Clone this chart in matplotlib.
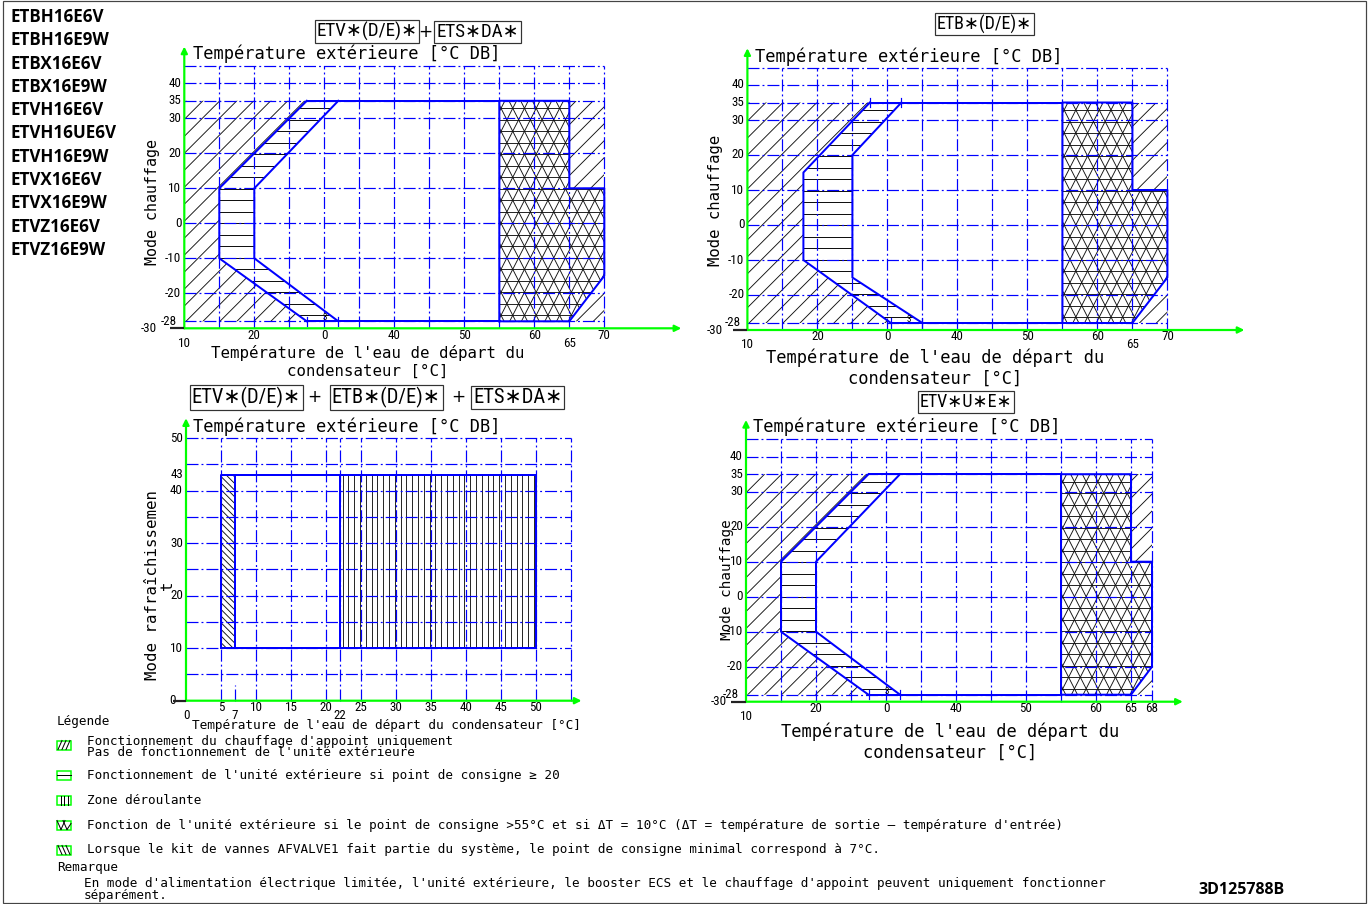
import matplotlib
matplotlib.use('Agg')
import numpy as np
import matplotlib.pyplot as plt
from matplotlib.patches import Polygon, Rectangle
from matplotlib.lines import Line2D
from matplotlib.collections import LineCollection
import matplotlib.font_manager as fm

# ---------------------------------------------------------------- data
model_names = ["ETBH16E6V", "ETBH16E9W", "ETBX16E6V", "ETBX16E9W", "ETVH16E6V",
               "ETVH16UE6V", "ETVH16E9W", "ETVX16E6V", "ETVX16E9W", "ETVZ16E6V",
               "ETVZ16E9W"]

heat_y_ticks = [40, 35, 30, 20, 10, 0, -10, -20, -28]
heat_y_grid = [45, 40, 35, 30, 20, 10, 0, -10, -20, -28]
heat_y_axis = -30

# panel 1 : ETV*(D/E)* + ETS*DA*
p1_titles = ["ETV∗(D/E)∗", "ETS∗DA∗"]
p1_x_ticks = [10, 20, 30, 40, 50, 60, 65, 70]
p1_x_labels = ["10", "20", "0", "40", "50", "60", "65", "70"]
p1_x_low = [True, False, False, False, False, False, True, False]
p1_x_grid = [15, 20, 25, 30, 35, 40, 45, 50, 55, 60, 65, 70]
p1_outer_x = [27.5, 15, 15, 27.5]
p1_outer_y = [-28, -10, 10, 35]
p1_inner_x = [32, 20, 20, 32]
p1_inner_y = [-28, -10, 10, 35]
p1_hp_x = [55, 55, 65, 65, 70, 70, 65]
p1_hp_y = [-28, 35, 35, 10, 10, -15, -28]

# panel 2 : ETB*(D/E)*
p2_titles = ["ETB∗(D/E)∗"]
p2_x_ticks = [10, 20, 30, 40, 50, 60, 65, 70]
p2_x_labels = ["10", "20", "0", "40", "50", "60", "65", "70"]
p2_x_low = [True, False, False, False, False, False, True, False]
p2_x_grid = [15, 20, 25, 30, 35, 40, 45, 50, 55, 60, 65, 70]
p2_outer_x = [30.5, 18, 18, 27.5]
p2_outer_y = [-28, -10, 15, 35]
p2_inner_x = [35, 25, 25, 32]
p2_inner_y = [-28, -15, 20, 35]
p2_hp_x = [55, 55, 65, 65, 70, 70, 65]
p2_hp_y = [-28, 35, 35, 10, 10, -15, -28]

# panel 4 : ETV*U*E*
p4_titles = ["ETV∗U∗E∗"]
p4_x_ticks = [10, 20, 30, 40, 50, 60, 65, 68]
p4_x_labels = ["10", "20", "0", "40", "50", "60", "65", "68"]
p4_x_low = [True, False, False, False, False, False, False, False]
p4_x_grid = [15, 20, 25, 30, 35, 40, 45, 50, 55, 60, 65, 68]
p4_outer_x = [27.5, 15, 15, 27.5]
p4_outer_y = [-28, -10, 10, 35]
p4_inner_x = [32, 20, 20, 32]
p4_inner_y = [-28, -10, 10, 35]
p4_hp_x = [55, 55, 65, 65, 68, 68, 65]
p4_hp_y = [-28, 35, 35, 10, 10, -20, -28]

# panel 3 : cooling
p3_titles = ["ETV∗(D/E)∗", "ETB∗(D/E)∗", "ETS∗DA∗"]
p3_x_ticks = [0, 5, 7, 10, 15, 20, 22, 25, 30, 35, 40, 45, 50]
p3_x_low = [True, False, True, False, False, False, True, False, False, False, False, False, False]
p3_y_ticks = [0, 10, 20, 30, 40, 43, 50]
p3_x_grid = [5, 10, 15, 20, 22, 25, 30, 35, 40, 45, 50, 55]
p3_y_grid = [5, 10, 15, 20, 25, 30, 35, 40, 45, 50]
p3_env_x = [5, 50]
p3_env_y = [10, 43]
p3_valve_x = [5, 7]
p3_roll_x = [22, 50]

legend_texts = [
    ["Fonctionnement du chauffage d'appoint uniquement",
     "Pas de fonctionnement de l'unité extérieure"],
    ["Fonctionnement de l'unité extérieure si point de consigne ≥ 20"],
    ["Zone déroulante"],
    ["Fonction de l'unité extérieure si le point de consigne >55°C et si ΔT = 10°C "
     "(ΔT = température de sortie – température d'entrée)"],
    ["Lorsque le kit de vannes AFVALVE1 fait partie du système, le point de consigne "
     "minimal correspond à 7°C."],
]
remark_lines = ["En mode d'alimentation électrique limitée, l'unité extérieure, le booster ECS "
                "et le chauffage d'appoint peuvent uniquement fonctionner",
                "séparément."]
doc_code = "3D125788B"

# ---------------------------------------------------------------- style
DPI = 72
W, H = 1370, 904
BLUE = '#0000ff'
GREEN = '#00ff00'
MONO = 'DejaVu Sans Mono'
DASHDOT = (0, (10.0, 2.5, 1.6, 2.5))


def has_font(name):
    try:
        fm.findfont(fm.FontProperties(family=name), fallback_to_default=False)
        return True
    except Exception:
        return False


NARROW = None
NARROW_STRETCH = 'normal'
for cand in ['Liberation Sans Narrow', 'Roboto Condensed', 'Open Sans Condensed']:
    if has_font(cand):
        NARROW = cand
        break
if NARROW is None:
    try:
        path = fm.findfont(fm.FontProperties(family='DejaVu Sans', stretch='condensed'))
        if 'ondensed' in path:
            NARROW, NARROW_STRETCH = 'DejaVu Sans', 'condensed'
    except Exception:
        pass
if NARROW is None:
    NARROW = 'Roboto' if has_font('Roboto') else 'DejaVu Sans'
BOLD = 'Open Sans' if has_font('Open Sans') else 'DejaVu Sans'

fig = plt.figure(figsize=(W / DPI, H / DPI), dpi=DPI)


def fx(x):
    return x / W


def fy(y):
    return 1 - y / H


def make_ax(ox, oy, x0, y0, sx, sy, xlim, ylim):
    left = ox + (xlim[0] - x0) * sx
    right = ox + (xlim[1] - x0) * sx
    top = oy - (ylim[1] - y0) * sy
    bottom = oy - (ylim[0] - y0) * sy
    ax = fig.add_axes([left / W, 1 - bottom / H, (right - left) / W, (bottom - top) / H])
    ax.set_xlim(*xlim)
    ax.set_ylim(*ylim)
    ax.axis('off')
    ax.patch.set_alpha(0)
    ax._sx, ax._sy = sx, sy
    return ax


def hatch_lines(ax, pts, angles, spacings, lw=0.9, color='#111111'):
    """Fill a polygon with straight hatch lines (angles/spacings in screen pixels)."""
    sx, sy = ax._sx, ax._sy
    poly = Polygon(pts, closed=True, fill=False, lw=0, edgecolor='none', zorder=1)
    ax.add_patch(poly)
    P = np.array([[p[0] * sx, p[1] * sy] for p in pts])
    c = P.mean(axis=0)
    R = np.max(np.hypot(P[:, 0] - c[0], P[:, 1] - c[1])) + 5
    segs = []
    for ang, sp in zip(angles, spacings):
        a = np.deg2rad(ang)
        d = np.array([np.cos(a), np.sin(a)])
        n = np.array([-np.sin(a), np.cos(a)])
        cn, cd = c @ n, c @ d
        k0 = int(np.floor((cn - R) / sp))
        k1 = int(np.ceil((cn + R) / sp))
        for k in range(k0, k1 + 1):
            t = k * sp
            p0 = n * t + d * (cd - R)
            p1 = n * t + d * (cd + R)
            segs.append([(p0[0] / sx, p0[1] / sy), (p1[0] / sx, p1[1] / sy)])
    lc = LineCollection(segs, colors=color, linewidths=lw, zorder=1)
    ax.add_collection(lc)
    lc.set_clip_path(poly)


DIAG = ([45], [12.0])
HORIZ = ([0], [11.5])
TRI_H = 11.5
TRI_ANG = 63.0
TRI_B = 2 * TRI_H / np.tan(np.deg2rad(TRI_ANG))
TRI = ([0, TRI_ANG, 180 - TRI_ANG],
       [TRI_H, TRI_B * np.sin(np.deg2rad(TRI_ANG)), TRI_B * np.sin(np.deg2rad(TRI_ANG))])


def title_boxes(ax, items, y, fs):
    for x, t, boxed in items:
        if boxed:
            ax.text(x, y, t, ha='center', va='center', fontsize=fs,
                    family=[NARROW, 'DejaVu Sans'], fontstretch=NARROW_STRETCH, clip_on=False,
                    bbox=dict(boxstyle='square,pad=0.1', fc='white', ec='#333333', lw=1.2))
        else:
            ax.text(x, y, t, ha='center', va='center', fontsize=17, family='DejaVu Sans',
                    clip_on=False)


def tick_text(ax, s, xy, off, ha):
    ax.annotate(s, xy=xy, xytext=off, textcoords='offset pixels', ha=ha, va='center',
                fontsize=13, family=NARROW, fontstretch=NARROW_STRETCH)


def green_axes(ax, x0, y0, xend, yend, tick_len):
    ap = dict(arrowstyle='-|>', color=GREEN, lw=2.2, mutation_scale=13, shrinkA=0, shrinkB=0)
    ax.annotate('', xy=(xend, y0), xytext=(x0, y0), arrowprops=ap, zorder=5)
    ax.annotate('', xy=(x0, yend), xytext=(x0, y0), arrowprops=ap, zorder=5)
    ax.plot([x0 - tick_len, x0], [y0, y0], color='#222222', lw=2.2, zorder=5,
            solid_capstyle='butt')


def heat_panel(ax, outer_x, outer_y, inner_x, inner_y, hp_x, hp_y,
               x_ticks, x_labels, x_low, x_grid, x_end, m30_off, top_ticks=False):
    x0 = 10
    xmax = hp_x[4]
    top, bot = hp_y[1], hp_y[0]
    # backup heater only (left + right)
    hatch_lines(ax, [(x0, bot)] + list(zip(outer_x, outer_y)) + [(x0, top)], *DIAG)
    hatch_lines(ax, [(hp_x[3], hp_y[3]), (hp_x[2], top), (xmax, top), (xmax, hp_y[3])], *DIAG)
    hatch_lines(ax, [(hp_x[6], bot), (xmax, hp_y[5]), (xmax, bot)], *DIAG)
    # outdoor unit if setpoint >= 20
    band = list(zip(outer_x, outer_y)) + list(zip(inner_x, inner_y))[::-1]
    hatch_lines(ax, band, *HORIZ, lw=1.0)
    # outdoor unit > 55 °C
    hatch_lines(ax, list(zip(hp_x, hp_y)), *TRI)
    # grid
    for gy in heat_y_grid:
        ax.plot([x0, xmax], [gy, gy], color=BLUE, lw=1.2, ls=DASHDOT, zorder=2)
    for gx in x_grid:
        ax.plot([gx, gx], [heat_y_axis, heat_y_grid[0]], color=BLUE, lw=1.2, ls=DASHDOT, zorder=2)
    # envelope outlines
    kw = dict(color=BLUE, lw=2, zorder=3)
    ax.plot(outer_x, outer_y, **kw)
    ax.plot(inner_x, inner_y, **kw)
    ax.plot([outer_x[-1], hp_x[1]], [top, top], **kw)
    ax.plot([outer_x[0], hp_x[0]], [bot, bot], **kw)
    ax.plot(hp_x + [hp_x[0]], hp_y + [hp_y[0]], **kw)
    # small dimension marks
    for xm in (outer_x[0], inner_x[0]):
        ax.plot([xm, xm], [bot - 1.3, bot + 1.3], color=BLUE, lw=1.2, zorder=3)
    ax.text((outer_x[0] + inner_x[0]) / 2 + 0.3, bot + 1.0, '3', fontsize=9, family=NARROW,
            ha='center', va='center', zorder=4)
    if top_ticks:
        for xm in (outer_x[-1], inner_x[-1]):
            ax.plot([xm, xm], [top - 1.3, top + 1.3], color=BLUE, lw=1.2, zorder=3)
    # axes
    green_axes(ax, x0, heat_y_axis, x_end, 50.5, 2.1)
    for xv, lab, low in zip(x_ticks, x_labels, x_low):
        tick_text(ax, lab, (xv, heat_y_axis), (0, -15 if low else -7), 'center')
    for yv in heat_y_ticks:
        tick_text(ax, str(yv), (x0, yv), (-7 if yv == -28 else -3, 0), 'right')
    tick_text(ax, str(heat_y_axis), (x0, heat_y_axis), (-m30_off, 0), 'right')


# ---------------------------------------------------------------- panel 1
ax1 = make_ax(184.3, 223.3, 10, 0, 7, 3.5, (0, 85), (-45, 60))
heat_panel(ax1, p1_outer_x, p1_outer_y, p1_inner_x, p1_inner_y, p1_hp_x, p1_hp_y,
           p1_x_ticks, p1_x_labels, p1_x_low, p1_x_grid, 81, 27)
title_boxes(ax1, [(36.1, p1_titles[0], True), (44.4, '+', False), (51.9, p1_titles[1], True)],
            54.7, 19)
ax1.text(11.2, 48.4, "Température extérieure [°C DB]", family=MONO, fontsize=17,
         ha='left', va='center')
ax1.text(5.4, 6.0, "Mode chauffage", family=MONO, fontsize=15, rotation=90,
         ha='center', va='center')
ax1.text(36.2, -39.6, "Température de l'eau de départ du\ncondensateur [°C]", family=MONO,
         fontsize=15.7, ha='center', va='center', linespacing=1.2, clip_on=False)

# ---------------------------------------------------------------- panel 2
ax2 = make_ax(747.4, 225, 10, 0, 7, 3.5, (0, 85), (-45, 65))
heat_panel(ax2, p2_outer_x, p2_outer_y, p2_inner_x, p2_inner_y, p2_hp_x, p2_hp_y,
           p2_x_ticks, p2_x_labels, p2_x_low, p2_x_grid, 81, 25, top_ticks=True)
title_boxes(ax2, [(43.9, p2_titles[0], True)], 57.4, 18)
ax2.text(11.1, 48.0, "Température extérieure [°C DB]", family=MONO, fontsize=17,
         ha='left', va='center')
ax2.text(5.5, 7.1, "Mode chauffage", family=MONO, fontsize=15.6, rotation=90,
         ha='center', va='center')
ax2.text(36.8, -40.9, "Température de l'eau de départ du\ncondensateur [°C]", family=MONO,
         fontsize=17, ha='center', va='center', linespacing=1.15, clip_on=False)

# ---------------------------------------------------------------- panel 4
ax4 = make_ax(746, 596.7, 10, 0, 7, 3.5, (0, 85), (-50, 62))
heat_panel(ax4, p4_outer_x, p4_outer_y, p4_inner_x, p4_inner_y, p4_hp_x, p4_hp_y,
           p4_x_ticks, p4_x_labels, p4_x_low, p4_x_grid, 72.4, 19)
title_boxes(ax4, [(41.4, p4_titles[0], True)], 55.6, 18)
ax4.text(11.0, 48.5, "Température extérieure [°C DB]", family=MONO, fontsize=17,
         ha='left', va='center')
ax4.text(7.3, 5.0, "Mode chauffage", family=MONO, fontsize=14.3, rotation=90,
         ha='center', va='center')
ax4.text(39.1, -41.5, "Température de l'eau de départ du\ncondensateur [°C]", family=MONO,
         fontsize=17, ha='center', va='center', linespacing=1.15, clip_on=False)

# ---------------------------------------------------------------- panel 3
ax3 = make_ax(186, 700.7, 0, 0, 7, 5.25, (-15, 62), (-12, 65))
ex0, ex1 = p3_env_x
ey0, ey1 = p3_env_y
hatch_lines(ax3, [(p3_valve_x[0], ey0), (p3_valve_x[0], ey1), (p3_valve_x[1], ey1),
                  (p3_valve_x[1], ey0)], [135], [4.7])
hatch_lines(ax3, [(p3_roll_x[0], ey0), (p3_roll_x[0], ey1), (p3_roll_x[1], ey1),
                  (p3_roll_x[1], ey0)], [90], [5.8])
for gy in p3_y_grid:
    ax3.plot([0, p3_x_grid[-1]], [gy, gy], color=BLUE, lw=1.2, ls=DASHDOT, zorder=2)
for gx in p3_x_grid:
    ax3.plot([gx, gx], [0, p3_y_grid[-1]], color=BLUE, lw=1.2, ls=DASHDOT, zorder=2)
ax3.plot([p3_valve_x[1]] * 2, [0, 3], color=BLUE, lw=1.2, ls=DASHDOT, zorder=2)
kw3 = dict(color=BLUE, lw=2, zorder=3)
ax3.plot([ex0, ex1, ex1, ex0, ex0], [ey0, ey0, ey1, ey1, ey0], **kw3)
ax3.plot([p3_valve_x[1]] * 2, [ey0, ey1], **kw3)
ax3.plot([p3_roll_x[0]] * 2, [ey0, ey1], **kw3)
green_axes(ax3, 0, 0, 56.5, 53.8, 1.9)
for xv, low in zip(p3_x_ticks, p3_x_low):
    tick_text(ax3, str(xv), (xv, 0), (0, -15 if low else -7), 'center')
for yv in p3_y_ticks:
    tick_text(ax3, str(yv), (0, yv), (-10 if yv == 0 else -3, 0), 'right')
title_boxes(ax3, [(8.6, p3_titles[0], True), (18.4, '+', False), (28.6, p3_titles[1], True),
                  (38.9, '+', False), (47.4, p3_titles[2], True)], 57.8, 20.5)
ax3.text(1.0, 52.1, "Température extérieure [°C DB]", family=MONO, fontsize=17,
         ha='left', va='center')
ax3.text(-3.7, 22, "Mode rafraîchissemen\nt", family=MONO, fontsize=15.8, rotation=90,
         ha='center', va='center', multialignment='center', linespacing=1.0)
ax3.text(0.9, -4.8, "Température de l'eau de départ du condensateur [°C]", family=MONO,
         fontsize=12.8, ha='left', va='center', clip_on=False)

# ---------------------------------------------------------------- model list
for i, name in enumerate(model_names):
    fig.text(fx(10), fy(17 + i * 23.3), name, fontsize=17, fontweight='bold', family=BOLD,
             ha='left', va='center')

# ---------------------------------------------------------------- legend
LFS = 12.6
fig.text(fx(57), fy(722), "Légende", family=MONO, fontsize=LFS, ha='left', va='center')
legend_y = [742, 775, 800, 825, 850]
icon_y = [745, 775, 800, 825, 850]
for k, (lines, ty, iy) in enumerate(zip(legend_texts, legend_y, icon_y)):
    for j, line in enumerate(lines):
        fig.text(fx(87), fy(ty + j * 10), line, family=MONO, fontsize=LFS,
                 ha='left', va='center')
    x0i, x1i, y0i, y1i = 57, 71, iy - 4.5, iy + 4.5
    if k == 0:
        segs = [((58, y1i), (62, y0i)), ((62, y1i), (66, y0i)), ((66, y1i), (70, y0i))]
    elif k == 1:
        segs = [((x0i, iy), (x1i, iy))]
    elif k == 2:
        segs = [((60.5, y0i), (60.5, y1i)), ((64, y0i), (64, y1i)), ((67.5, y0i), (67.5, y1i))]
    elif k == 3:
        segs = [((x0i, y0i), (x0i + 4, y1i)), ((x0i + 4, y1i), (x0i + 8, y0i)),
                ((x0i + 6, y0i), (x0i + 10, y1i)), ((x0i + 10, y1i), (x1i, y0i + 3))]
    else:
        segs = [((58, y0i), (62, y1i)), ((62, y0i), (66, y1i)), ((66, y0i), (70, y1i))]
    for (a, b) in segs:
        fig.add_artist(Line2D([fx(a[0]), fx(b[0])], [fy(a[1]), fy(b[1])],
                              transform=fig.transFigure, color='black', lw=1))
    fig.add_artist(Rectangle((fx(x0i), fy(y1i)), (x1i - x0i) / W, (y1i - y0i) / H,
                             transform=fig.transFigure, fill=False, ec=GREEN, lw=1.5))

fig.text(fx(57), fy(868), "Remarque", family=MONO, fontsize=LFS, ha='left', va='center')
fig.text(fx(84), fy(883), remark_lines[0], family=MONO, fontsize=LFS, ha='left', va='center')
fig.text(fx(84), fy(896), remark_lines[1], family=MONO, fontsize=LFS, ha='left', va='center')
fig.text(fx(1242), fy(890), doc_code, fontsize=16, fontweight='bold', family=BOLD,
         ha='center', va='center')

# frame
fig.add_artist(Rectangle((fx(3), fy(903)), (1366 - 3) / W, (903 - 1) / H,
                         transform=fig.transFigure, fill=False, ec='#444444', lw=1.2))

fig.savefig('out.png', dpi=DPI)
